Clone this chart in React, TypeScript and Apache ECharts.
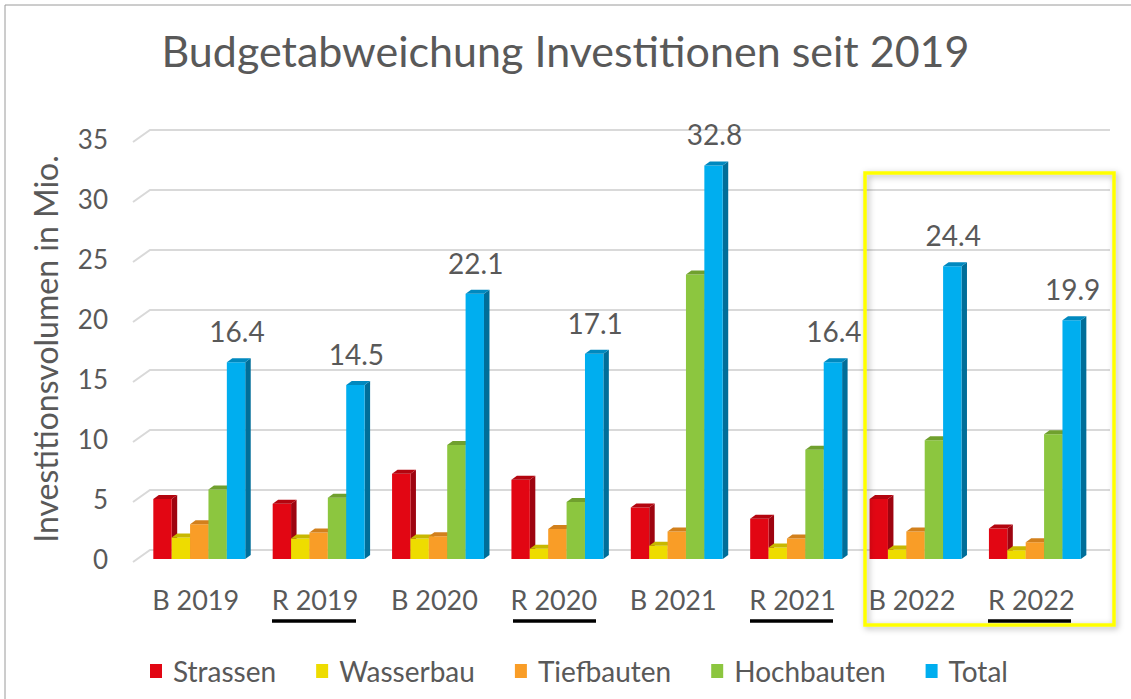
import React, { useEffect, useRef } from "react";
import * as echarts from "echarts";

const categories = ["B 2019", "R 2019", "B 2020", "R 2020", "B 2021", "R 2021", "B 2022", "R 2022"];
const seriesNames = ["Strassen", "Wasserbau", "Tiefbauten", "Hochbauten", "Total"];
const strassen = [5.0, 4.6, 7.1, 6.6, 4.3, 3.35, 5.0, 2.55];
const wasserbau = [1.8, 1.7, 1.7, 0.85, 1.1, 0.95, 0.8, 0.72];
const tiefbauten = [2.9, 2.2, 1.9, 2.5, 2.3, 1.7, 2.3, 1.4];
const hochbauten = [5.8, 5.1, 9.5, 4.75, 23.7, 9.1, 9.9, 10.4];
const total = [16.4, 14.5, 22.1, 17.1, 32.8, 16.4, 24.4, 19.9];
const yTicks = [0, 5, 10, 15, 20, 25, 30, 35];

const FONT = "Lato";
const TEXT = "#595959";

const palette = [
  { front: "#E20613", side: "#9E0410", top: "#B3050F" },
  { front: "#EEDC00", side: "#B5A600", top: "#C8B800" },
  { front: "#F99D27", side: "#C0741A", top: "#D2801C" },
  { front: "#8CC63F", side: "#66962A", top: "#70A02E" },
  { front: "#00AEEF", side: "#006E99", top: "#0089BF" },
];

const allValues = [strassen, wasserbau, tiefbauten, hochbauten, total];

export default function App() {
  const ref = useRef<HTMLDivElement>(null);
  useEffect(() => {
    if (!ref.current) return;
    const chart = echarts.init(ref.current, null, { renderer: "svg" });

    const DX = 5.5;
    const DY = 4;

    const barSeries = seriesNames.map((name, si) => ({
      name,
      type: "custom",
      z: 3,
      itemStyle: { color: palette[si].front },
      data: allValues[si].map((v, i) => [i, v]),
      renderItem: (params: any, api: any) => {
        const idx = api.value(0);
        const v = api.value(1);
        const base = api.coord([idx, 0]);
        const topPt = api.coord([idx, v]);
        const band = api.size([1, 0])[0];
        const bw = band * 0.154;
        const groupW = bw * 5;
        const xl = base[0] - groupW / 2 + band * 0.03 + si * bw;
        const xr = xl + bw;
        const y0 = base[1];
        const y1 = topPt[1];
        const c = palette[si];
        const children: any[] = [
          {
            type: "polygon",
            shape: { points: [[xr, y1], [xr + DX, y1 - DY], [xr + DX, y0 - DY], [xr, y0]] },
            style: { fill: c.side },
          },
          {
            type: "rect",
            shape: { x: xl, y: y1, width: bw, height: y0 - y1 },
            style: { fill: c.front },
          },
          {
            type: "polygon",
            shape: { points: [[xl, y1], [xr, y1], [xr + DX, y1 - DY], [xl + DX, y1 - DY]] },
            style: { fill: c.top },
          },
        ];
        if (si === 4) {
          children.push({
            type: "text",
            style: {
              x: xl + bw / 2 + 1,
              y: y1 - 31,
              text: v.toFixed(1),
              fill: TEXT,
              font: `28px ${FONT}`,
              align: "center",
              verticalAlign: "middle",
            },
          });
        }
        return { type: "group", children };
      },
    }));

    const gridSeries = {
      name: "grid",
      type: "custom",
      z: 1,
      silent: true,
      data: yTicks.map((t) => [0, t]),
      renderItem: (params: any, api: any) => {
        const cs = params.coordSys;
        const y = api.coord([0, api.value(1)])[1];
        return {
          type: "polyline",
          shape: {
            points: [
              [cs.x - 3, y + 3],
              [cs.x + 14, y - 9],
              [cs.x + cs.width + 19, y - 9],
            ],
          },
          style: { stroke: "#d9d9d9", lineWidth: 2, fill: "none" },
        };
      },
    };

    const underlines = [
      [272, 356],
      [513, 596],
      [750, 833],
      [988, 1071],
    ];

    chart.setOption({
      animation: false,
      backgroundColor: "#ffffff",
      title: {
        text: "Budgetabweichung Investitionen seit 2019",
        left: "center",
        top: 24,
        textStyle: { fontFamily: FONT, fontSize: 43, fontWeight: "normal", color: TEXT },
      },
      legend: {
        data: seriesNames,
        bottom: 9,
        left: 145,
        icon: "rect",
        itemWidth: 12,
        itemHeight: 14,
        itemGap: 40,
        textStyle: { fontFamily: FONT, fontSize: 28, color: TEXT, padding: [0, 0, 0, 6] },
      },
      grid: { left: 136, right: 40, top: 139, bottom: 140, containLabel: false },
      xAxis: {
        type: "category",
        data: categories,
        axisLine: { show: false },
        axisTick: { show: false },
        axisLabel: { margin: 27, fontFamily: FONT, fontSize: 27, color: TEXT },
      },
      yAxis: {
        type: "value",
        min: 0,
        max: 35,
        interval: 5,
        name: "Investitionsvolumen in Mio.",
        nameLocation: "middle",
        nameGap: 75,
        nameTextStyle: { fontFamily: FONT, fontSize: 32, color: TEXT },
        axisLine: { show: false },
        axisTick: { show: false },
        splitLine: { show: false },
        axisLabel: {
          margin: 28,
          fontFamily: FONT,
          fontSize: 26,
          color: TEXT,
          padding: [8, 0, 0, 0],
        },
      },
      series: [gridSeries, ...barSeries],
      graphic: [
        {
          type: "rect",
          shape: { x: 5, y: 5, width: 1200, height: 800 },
          style: { fill: "none", stroke: "#9a9a9a", lineWidth: 1 },
          silent: true,
          z: 0,
        },
        {
          type: "rect",
          shape: { x: 865, y: 173, width: 249, height: 452 },
          style: {
            fill: "none",
            stroke: "#FFFF00",
            lineWidth: 3.5,
            shadowBlur: 6,
            shadowColor: "rgba(0,0,0,0.3)",
            shadowOffsetX: 2,
            shadowOffsetY: 2,
          },
          silent: true,
          z: 10,
        },
        {
          type: "line",
          shape: { x1: 128, y1: 316, x2: 1131, y2: 316 },
          style: {
            stroke: "#FFFF00",
            lineWidth: 4,
            shadowBlur: 4,
            shadowColor: "rgba(0,0,0,0.3)",
            shadowOffsetY: 2,
          },
          silent: true,
          z: 10,
        },
        ...underlines.map(([a, b]) => ({
          type: "line",
          shape: { x1: a, y1: 621, x2: b, y2: 621 },
          style: { stroke: "#000000", lineWidth: 3.5 },
          silent: true,
          z: 10,
        })),
      ],
    });
    return () => chart.dispose();
  }, []);
  return (
    <div
      ref={ref}
      style={{ position: "fixed", left: 0, top: 0, width: 1131, height: 699, background: "#fff" }}
    />
  );
}
